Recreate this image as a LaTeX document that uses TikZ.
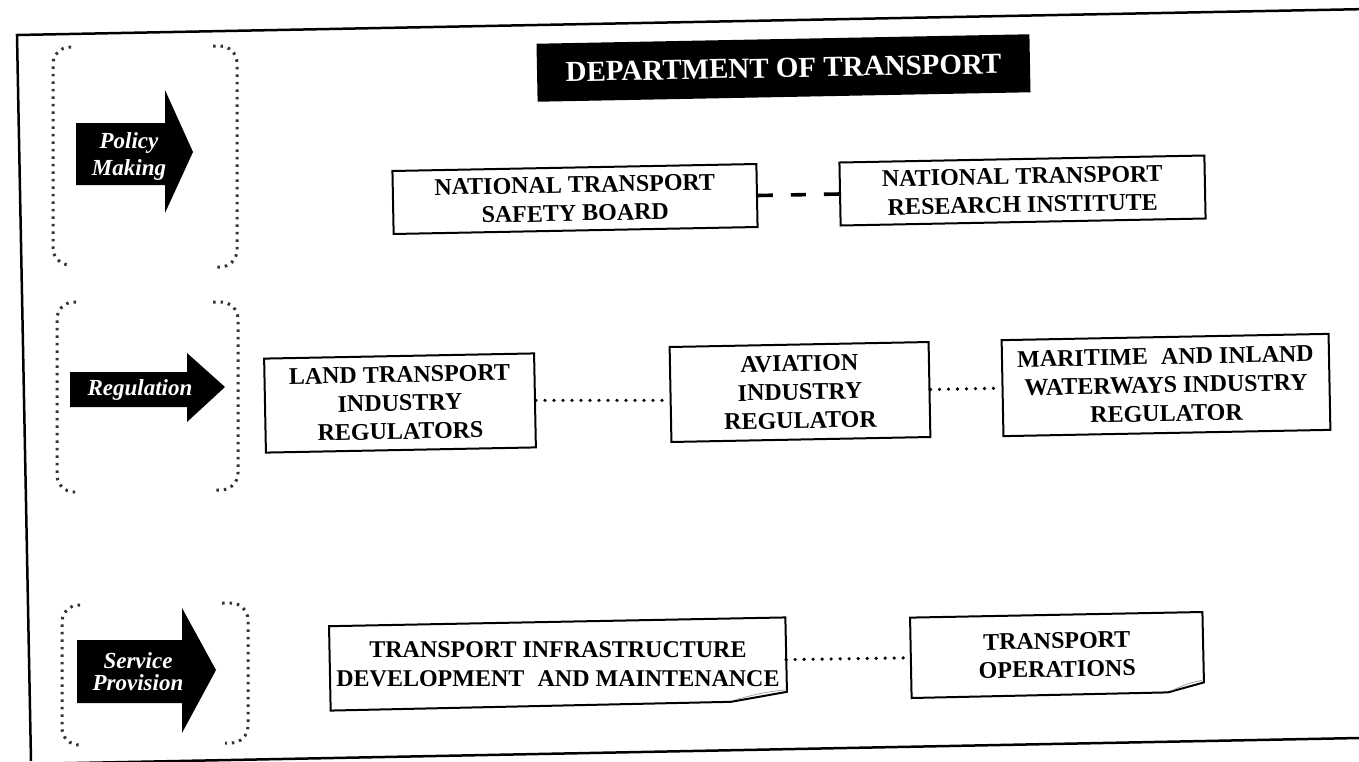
\documentclass[tikz,border=0pt]{standalone}
\usepackage{fontspec}
\setmainfont{Liberation Serif}
\usetikzlibrary{calc}

% outline of a box with a turned-up lower right corner
\newcommand{\foldedbox}[3]{% #1 node, #2 fold width, #3 fold height
  \draw[boxline] (#1.north west) -- (#1.north east)
    -- ([yshift=#3]#1.south east) -- ([xshift=-#2]#1.south east)
    -- (#1.south west) -- cycle;
  \draw[black!40, line width=0.7pt]
    ([xshift=-2pt, yshift=#3+2pt]#1.south east)
    .. controls ([xshift=-#2*0.45, yshift=#3*0.9]#1.south east)
    .. ([xshift=-#2+4pt, yshift=2pt]#1.south east);
}

\begin{document}
\begin{tikzpicture}[x=1pt, y=-1pt,
  tilt/.style={rotate=1.1},
  boxline/.style={line width=2pt, line join=miter},
  boxfont/.style={font=\bfseries\fontsize{24}{28.5}\selectfont},
  unitbox/.style={tilt, boxfont, draw, boxline, fill=white, inner sep=0pt,
    align=center},
  notebox/.style={tilt, boxfont, inner sep=0pt, align=center},
  headbox/.style={tilt, fill=black, text=white, inner sep=0pt,
    font=\bfseries\fontsize{29}{33}\selectfont},
  arrowtext/.style={text=white, inner sep=0pt, align=center,
    font=\bfseries\itshape\fontsize{23}{27}\selectfont},
  bracket/.style={black!80, line width=3pt, dash pattern=on 2.5pt off 5pt,
    rounded corners=17pt},
  dotlink/.style={line width=3.6pt, line cap=round, dash pattern=on 0pt off 9pt},
  dashlink/.style={line width=3.6pt, dash pattern=on 15pt off 18pt},
  frameline/.style={line width=2.5pt}
]
\useasboundingbox (0,0) rectangle (1359,761);
\clip (0,0) rectangle (1359,761);
\fill[white] (0,0) rectangle (1359,761);

% page frame (open on the right)
\draw[frameline] (1359,9.2) -- (17,35) -- (31,761);
\draw[frameline] (25,764) -- (1359,738);

% ---------- left column: levels ----------
% Policy Making
\draw[bracket] (71,47) -- (53,47) -- (53,265) -- (71,265);
\draw[bracket] (213,46) -- (237,46) -- (237,267) -- (213,267);
\fill (76,123) -- (165,123) -- (165,90) -- (193,152) -- (165,213)
  -- (165,185) -- (76,185) -- cycle;
\node[arrowtext] (policy) at (129,156) {Policy\\Making};

% Regulation
\draw[bracket] (76,302) -- (57,302) -- (57,492) -- (79,492);
\draw[bracket] (213,302) -- (238,302) -- (238,490) -- (216,490);
\fill (70,372) -- (187,372) -- (187,353) -- (225,387) -- (187,422)
  -- (187,407) -- (70,407) -- cycle;
\node[arrowtext] (regulation) at (140,390) {Regulation};

% Service Provision
\draw[bracket] (80,605) -- (62,605) -- (62,745) -- (83,745);
\draw[bracket] (222,603) -- (248,603) -- (248,743) -- (225,743);
\fill (77,640) -- (182,640) -- (182,608) -- (216,670) -- (182,733)
  -- (182,703) -- (77,703) -- cycle;
\node[arrowtext, font=\bfseries\itshape\fontsize{23}{22}\selectfont]
  (service) at (138,672) {Service\\Provision};

% ---------- header ----------
\node[headbox, minimum width=493pt, minimum height=58pt] (dot)
  at (783.5,68) {DEPARTMENT OF TRANSPORT};

% ---------- policy level ----------
\node[unitbox, minimum width=364pt, minimum height=63pt] (ntsb)
  at (575,199) {NATIONAL TRANSPORT\\SAFETY BOARD};
\node[unitbox, minimum width=365pt, minimum height=63pt] (ntri)
  at (1022.5,190.5) {NATIONAL TRANSPORT\\RESEARCH INSTITUTE};
\draw[dashlink] (ntsb.east) -- (ntri.west);

% ---------- regulation level ----------
\node[unitbox, minimum width=270pt, minimum height=94pt] (land)
  at (400,403) {LAND TRANSPORT\\INDUSTRY\\REGULATORS};
\node[unitbox, minimum width=259pt, minimum height=95pt] (aviation)
  at (800,392) {AVIATION\\INDUSTRY\\REGULATOR};
\node[unitbox, minimum width=327pt, minimum height=96pt] (maritime)
  at (1166,385) {MARITIME\hspace{0.3em} AND INLAND\\WATERWAYS INDUSTRY\\REGULATOR};
\draw[dotlink] (land.east) -- (aviation.west |- land.east);
\draw[dotlink] (aviation.east) -- (maritime.west);

% ---------- service provision level ----------
% the long two-line label is set level inside its tilted outline
\node[notebox, minimum width=456pt, minimum height=84pt] (infra)
  at (558,664) {};
\node[boxfont, inner sep=0pt, align=center] (infralabel) at (infra.center)
  {TRANSPORT INFRASTRUCTURE\\DEVELOPMENT\hspace{0.3em} AND MAINTENANCE};
\foldedbox{infra}{56pt}{10pt}
\node[notebox, minimum width=292pt, minimum height=80pt] (ops)
  at (1057,655) {TRANSPORT\\OPERATIONS};
\foldedbox{ops}{36pt}{10pt}
\draw[dotlink] (infra.east) -- (ops.west);

\end{tikzpicture}
\end{document}
